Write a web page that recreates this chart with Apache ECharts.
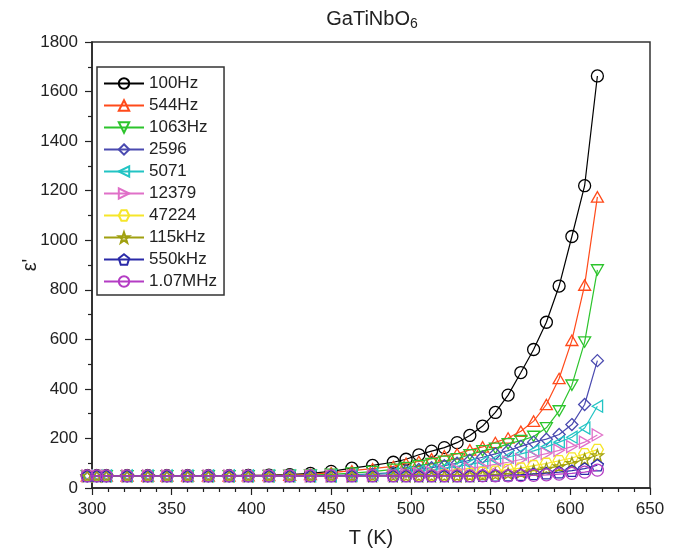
<!DOCTYPE html>
<html>
<head>
<meta charset="utf-8">
<script src="https://cdn.jsdelivr.net/npm/echarts@6/dist/echarts.min.js"></script>
<style>html,body{margin:0;padding:0;background:#fff;}#c{width:675px;height:553px;}</style>
</head>
<body>
<div id="c"></div>
<script>
// Temperature (K)
var temps = [297,303,309,322,335,347,360,373,386,398,411,424,437,450,463,476,489,497,505,513,521,529,537,545,553,561,569,577,585,593,601,609,617];
var seriesNames = ['100Hz','544Hz','1063Hz','2596','5071','12379','47224','115kHz','550kHz','1.07MHz'];
var f100Hz   = [50,50,50,50,50,50,50,50,50,51,52,54,59,67,80,91,104,116,134,149,163,183,212,250,305,375,466,559,669,815,1015,1220,1663];
var f544Hz   = [49,49,49,49,49,49,49,49,49,50,51,52,55,62,70,78,87,100,107,118,130,138,154,166,184,202,229,270,337,442,596,819,1175];
var f1063Hz  = [49,49,49,49,49,49,49,49,49,49,50,51,52,55,60,66,75,82,90,98,108,118,134,150,160,178,191,208,243,311,415,589,880];
var f2596    = [49,49,49,49,49,49,49,49,49,49,49,49,49,50,53,57,62,68,75,82,90,100,112,124,138,151,168,185,197,216,256,337,514];
var f5071    = [49,49,49,49,49,49,49,49,49,49,49,49,49,49,51,54,58,62,67,73,80,87,95,104,114,125,138,150,166,185,205,242,330];
var f12379   = [49,49,49,49,49,49,49,49,49,49,49,49,49,49,49,51,53,56,59,63,68,73,79,86,95,104,115,127,139,152,167,185,214];
var f47224   = [49,49,49,49,49,49,49,49,49,49,49,49,49,49,49,49,49,49,50,51,53,55,58,62,67,74,80,90,99,110,121,138,155];
var f115kHz  = [49,49,49,49,49,49,49,49,49,49,49,49,49,49,49,49,49,49,49,49,49,49,50,52,55,59,64,71,78,88,101,116,132];
var f550kHz  = [49,49,49,49,49,49,49,49,49,49,49,49,49,49,49,49,49,49,49,49,49,49,49,50,51,52,54,57,60,64,70,78,92];
var f107MHz  = [49,49,49,49,49,49,49,49,49,49,49,49,49,49,49,49,49,49,49,49,49,49,49,49,49,49,50,51,53,56,59,64,72];
var xTicks = [300,350,400,450,500,550,600,650];
var yTicks = [0,200,400,600,800,1000,1200,1400,1600,1800];

var allValues = [f100Hz,f544Hz,f1063Hz,f2596,f5071,f12379,f47224,f115kHz,f550kHz,f107MHz];
var colors = ['#000000','#ff4a1a','#2cc42c','#4a4ab0','#22c4c4','#e070c8','#f6e62a','#a0a010','#2a2aa8','#b43cc4'];
var symbols = [
  'circle',
  'path://M0,-10 L8.66,5 L-8.66,5 Z',
  'path://M0,10 L8.66,-5 L-8.66,-5 Z',
  'diamond',
  'path://M-10,0 L5,-8.66 L5,8.66 Z',
  'path://M10,0 L-5,-8.66 L-5,8.66 Z',
  'path://M-10,0 L-5,-8.66 L5,-8.66 L10,0 L5,8.66 L-5,8.66 Z',
  'path://M0,-10 L2.35,-3.24 L9.51,-3.09 L3.8,1.24 L5.88,8.09 L0,4 L-5.88,8.09 L-3.8,1.24 L-9.51,-3.09 L-2.35,-3.24 Z',
  'path://M0,-10 L9.51,-3.09 L5.88,8.09 L-5.88,8.09 L-9.51,-3.09 Z',
  'circle'
];

var series = seriesNames.map(function(name, i){
  return {
    name: name,
    type: 'line',
    data: temps.map(function(t, j){ return [t, allValues[i][j]]; }),
    symbol: symbols[i],
    symbolSize: 12,
    symbolKeepAspect: true,
    clip: false,
    lineStyle: {color: colors[i], width: 1.2},
    itemStyle: {color: 'rgba(255,255,255,0)', borderColor: colors[i], borderWidth: 1.3},
    emphasis: {disabled: true},
    z: 2 + i
  };
});

var chart = echarts.init(document.getElementById('c'), null, {renderer: 'canvas'});
chart.setOption({
  animation: false,
  backgroundColor: '#fff',
  title: {
    text: '{a|GaTiNbO}{b|6}',
    left: 367,
    textAlign: 'center',
    top: 3,
    textStyle: {
      fontWeight: 'normal',
      rich: {
        a: {fontSize: 20, fontWeight: 'normal', fontFamily: 'Liberation Sans, Arial', color: '#222'},
        b: {fontSize: 14, fontWeight: 'normal', fontFamily: 'Liberation Sans, Arial', color: '#222', padding: [9,0,0,0]}
      }
    }
  },
  grid: {left: 92, right: 25, top: 42, bottom: 63, show: true, borderColor: '#333', borderWidth: 1.5, backgroundColor: 'transparent'},
  legend: {
    left: 97, top: 67,
    orient: 'vertical',
    data: seriesNames,
    itemWidth: 40, itemHeight: 13, itemGap: 5,
    padding: [8, 7, 5, 6],
    borderColor: '#333', borderWidth: 1.5,
    textStyle: {fontSize: 17, fontFamily: 'Liberation Sans, Arial', color: '#222', lineHeight: 17},
    selectedMode: false
  },
  xAxis: {
    type: 'value', min: xTicks[0], max: xTicks[xTicks.length-1], interval: 50,
    name: 'T (K)', nameLocation: 'middle', nameGap: 40,
    nameTextStyle: {fontSize: 20, fontFamily: 'Liberation Sans, Arial', color: '#222'},
    axisLine: {show: true, lineStyle: {color: '#222', width: 1.5}},
    axisTick: {show: true, length: 7, lineStyle: {color: '#222', width: 1.2}},
    minorTick: {show: true, splitNumber: 5, length: 4, lineStyle: {color: '#222', width: 1.2}},
    splitLine: {show: false},
    axisLabel: {fontSize: 17, fontFamily: 'Liberation Sans, Arial', color: '#222', margin: 13, formatter: function(v){ return String(v); }}
  },
  yAxis: {
    type: 'value', min: yTicks[0], max: yTicks[yTicks.length-1], interval: 200,
    name: "ε'", nameLocation: 'middle', nameGap: 52, nameRotate: 90, nameMoveOverlap: false,
    nameTextStyle: {fontSize: 20, fontFamily: 'Liberation Sans, Arial', color: '#222'},
    axisLine: {show: true, lineStyle: {color: '#222', width: 1.5}},
    axisTick: {show: true, length: 7, lineStyle: {color: '#222', width: 1.2}},
    minorTick: {show: true, splitNumber: 2, length: 4, lineStyle: {color: '#222', width: 1.2}},
    splitLine: {show: false},
    axisLabel: {fontSize: 17, fontFamily: 'Liberation Sans, Arial', color: '#222', margin: 14, formatter: function(v){ return String(v); }}
  },
  series: series
});
</script>
</body>
</html>
